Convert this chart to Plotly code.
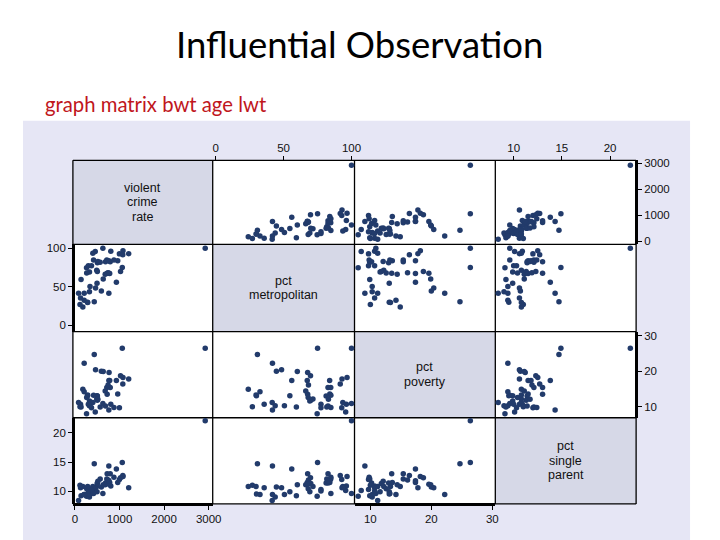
import plotly.graph_objects as go

# --- data (US states crime data, 50 states + DC) ---
states = ["ak","al","ar","az","ca","co","ct","de","fl","ga","hi","ia","id","il","in","ks","ky","la","ma","md",
          "me","mi","mn","mo","ms","mt","nc","nd","ne","nh","nj","nm","nv","ny","oh","ok","or","pa","ri","sc",
          "sd","tn","tx","ut","va","vt","wa","wi","wv","wy","dc"]
crime = [761,780,593,715,1078,567,456,686,1206,723,261,326,282,960,489,496,463,1062,805,998,
         126,792,327,744,434,178,679,82,339,138,627,930,875,1074,504,635,503,418,402,1023,
         208,766,762,301,372,114,515,264,208,286,2922]
pctmetro = [41.8,67.4,44.7,84.7,96.7,81.8,95.7,82.7,93.0,67.7,74.7,43.8,30.0,84.0,71.6,54.6,48.5,75.0,96.2,92.8,
            35.7,82.7,69.3,68.3,30.7,24.0,66.3,41.6,50.6,59.4,100.0,56.0,84.8,91.7,81.3,60.1,70.0,84.8,93.6,69.8,
            32.6,67.7,83.9,77.5,77.5,27.0,83.0,68.1,41.8,29.7,100.0]
poverty = [9.1,17.4,20.0,15.4,18.2,9.9,8.5,10.2,17.8,13.5,8.0,10.3,13.1,13.6,12.2,13.1,20.4,26.4,10.7,9.7,
           10.7,15.4,11.6,16.1,24.7,14.9,14.4,11.2,10.3,9.9,10.9,17.4,9.8,16.4,13.0,19.9,11.8,13.2,11.2,18.7,
           14.2,19.6,17.4,10.7,9.7,10.0,12.1,12.6,22.2,13.3,26.4]
single = [14.3,11.5,10.7,12.1,12.5,12.1,10.1,11.4,10.6,13.0,9.1,9.0,9.5,11.5,10.8,9.9,10.6,14.9,10.9,12.0,
          10.6,13.0,9.9,11.9,14.7,10.8,11.1,8.4,9.4,9.2,9.6,13.8,12.4,12.7,11.4,11.1,11.3,9.6,10.8,12.3,
          9.4,11.2,11.8,10.0,10.3,11.0,11.7,10.4,9.4,10.8,22.1]

variables = [crime, pctmetro, poverty, single]
var_labels = [["violent", "crime", "rate"], ["pct", "metropolitan"], ["pct", "poverty"], ["pct", "single", "parent"]]
tick_vals = [[0, 1000, 2000, 3000], [0, 50, 100], [10, 20, 30], [10, 15, 20]]
tick_text = [["0", "1000", "2000", "3000"], ["0", "50", "100"], ["10", "20", "30"], ["10", "15", "20"]]

# --- layout geometry (reference pixels) ---
REF_W, REF_H = 720, 540
W, H = 729, 547
col_edges = [72, 212, 354, 495, 636]
row_edges = [157, 241, 328, 414, 500]
x_ranges = [[-45, 3090], [-2.2, 102.2], [7.4, 30.5], [8.1, 22.7]]
y_ranges = [[-115, 3115], [-8, 105], [6.9, 31.1], [7.8, 22.6]]

def px(x):
    return x / REF_W

def py(y):
    return 1 - y / REF_H

MARK = "#223b6b"
TICKFONT = dict(family="Liberation Sans, Arial, sans-serif", size=11.5, color="#111111")

fig = go.Figure()

ax_name = lambda k: "" if k == 0 else str(k + 1)

for i in range(4):        # row -> y variable
    for j in range(4):    # col -> x variable
        if i == j:
            continue
        fig.add_trace(go.Scatter(
            x=variables[j], y=variables[i], mode="markers",
            xaxis="x" + ax_name(j), yaxis="y" + ax_name(i),
            marker=dict(color=MARK, size=5.5, symbol="circle", line=dict(width=0)),
            hoverinfo="skip", showlegend=False, cliponaxis=False,
        ))

layout = dict(
    width=W, height=H,
    margin=dict(l=0, r=0, t=0, b=0),
    paper_bgcolor="white",
    plot_bgcolor="rgba(0,0,0,0)",
    showlegend=False,
)

for j in range(4):
    side = "bottom" if j % 2 == 0 else "top"
    pos = py(row_edges[4]) if side == "bottom" else py(row_edges[0])
    layout["xaxis" + ax_name(j)] = dict(
        domain=[px(col_edges[j]), px(col_edges[j + 1])],
        range=x_ranges[j], anchor="free", position=pos, side=side,
        tickvals=tick_vals[j], ticktext=tick_text[j],
        showgrid=False, zeroline=False,
        showline=True, linecolor="black", linewidth=2.5 if side == "bottom" else 1.3,
        ticks="outside", ticklen=4, tickcolor="black", tickwidth=1,
        tickfont=TICKFONT, fixedrange=True,
    )

for i in range(4):
    side = "right" if i % 2 == 0 else "left"
    pos = px(col_edges[4]) if side == "right" else px(col_edges[0])
    layout["yaxis" + ax_name(i)] = dict(
        domain=[py(row_edges[i + 1]), py(row_edges[i])],
        range=y_ranges[i], anchor="free", position=pos, side=side,
        tickvals=tick_vals[i], ticktext=tick_text[i],
        showgrid=False, zeroline=False,
        showline=True, linecolor="black", linewidth=2.5,
        ticks="outside", ticklen=4, tickcolor="black", tickwidth=1,
        tickfont=TICKFONT, fixedrange=True,
    )

shapes = []
# lavender graph region
shapes.append(dict(type="rect", xref="paper", yref="paper",
                   x0=px(22), x1=px(690), y0=py(536), y1=py(117.5),
                   fillcolor="#e6e6f5", line=dict(width=0), layer="below"))
# white plot area
shapes.append(dict(type="rect", xref="paper", yref="paper",
                   x0=px(col_edges[0]), x1=px(col_edges[4]), y0=py(row_edges[4]), y1=py(row_edges[0]),
                   fillcolor="white", line=dict(width=0), layer="below"))
# diagonal cells
for k in range(4):
    shapes.append(dict(type="rect", xref="paper", yref="paper",
                       x0=px(col_edges[k]), x1=px(col_edges[k + 1]),
                       y0=py(row_edges[k + 1]), y1=py(row_edges[k]),
                       fillcolor="#d6d8e7", line=dict(width=0), layer="below"))
# cell borders
for c in col_edges:
    shapes.append(dict(type="line", xref="paper", yref="paper",
                       x0=px(c), x1=px(c), y0=py(row_edges[4]), y1=py(row_edges[0]),
                       line=dict(color="black", width=1.3), layer="below"))
for r in row_edges:
    shapes.append(dict(type="line", xref="paper", yref="paper",
                       x0=px(col_edges[0]), x1=px(col_edges[4]), y0=py(r), y1=py(r),
                       line=dict(color="black", width=1.3), layer="below"))
layout["shapes"] = shapes

annotations = []
# diagonal variable labels
LINE_GAP = 14.5
for k in range(4):
    cx = (col_edges[k] + col_edges[k + 1]) / 2
    cy = (row_edges[k] + row_edges[k + 1]) / 2
    lines = var_labels[k]
    n = len(lines)
    for m, t in enumerate(lines):
        yy = cy + (m - (n - 1) / 2) * LINE_GAP
        annotations.append(dict(text=t, xref="paper", yref="paper", x=px(cx), y=py(yy),
                                xanchor="center", yanchor="middle", showarrow=False,
                                font=dict(family="Liberation Sans, Arial, sans-serif", size=12.5, color="#111111")))
# slide title and subtitle
annotations.append(dict(text="Influential Observation", xref="paper", yref="paper",
                        x=px(359), y=py(41), xanchor="center", yanchor="middle", showarrow=False,
                        font=dict(family="Lato, sans-serif", size=36.5, color="black")))
annotations.append(dict(text="graph matrix bwt age lwt", xref="paper", yref="paper",
                        x=px(42), y=py(101), xanchor="left", yanchor="middle", showarrow=False,
                        font=dict(family="Lato, sans-serif", size=20.3, color="#c0161c")))
layout["annotations"] = annotations

fig.update_layout(**layout)
fig.write_html(
    "out.html",
    config={"displayModeBar": False},
    post_script="document.body.style.margin='0';document.body.style.overflow='hidden';",
)
